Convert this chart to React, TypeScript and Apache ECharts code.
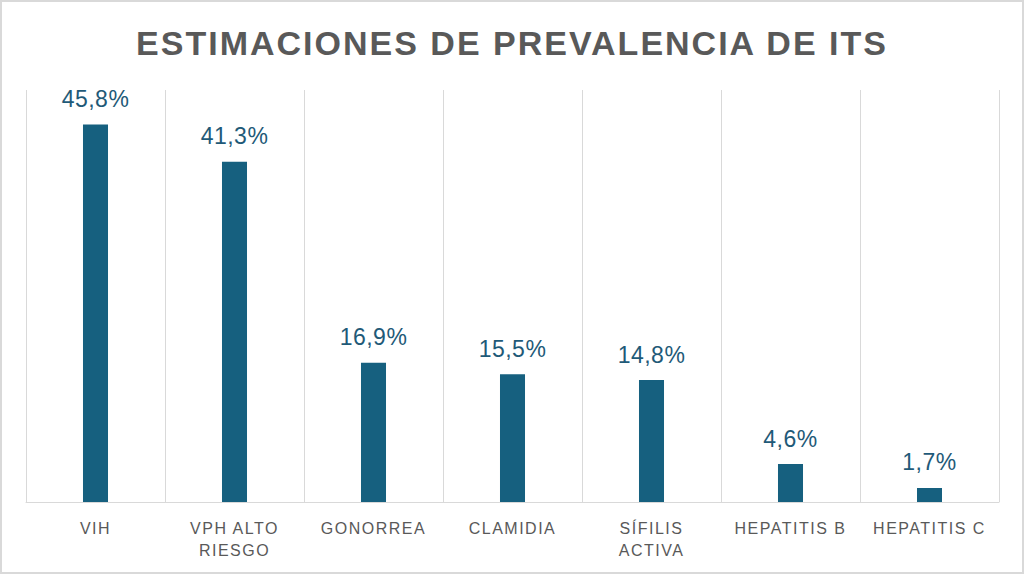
import React, { useEffect, useRef } from "react";
import * as echarts from "echarts";

const categories = ["VIH", "VPH ALTO\nRIESGO", "GONORREA", "CLAMIDIA", "SÍFILIS\nACTIVA", "HEPATITIS B", "HEPATITIS C"];
const values = [45.8, 41.3, 16.9, 15.5, 14.8, 4.6, 1.7];
const titleText = "ESTIMACIONES DE PREVALENCIA DE ITS";

export default function App() {
  const ref = useRef<HTMLDivElement>(null);
  useEffect(() => {
    if (!ref.current) return;
    const chart = echarts.init(ref.current, undefined, { renderer: "svg" });
    chart.setOption({
      animation: false,
      backgroundColor: "#ffffff",
      title: {
        text: titleText,
        left: "center",
        top: 21,
        textStyle: {
          fontFamily: "Liberation Sans",
          fontSize: 34,
          fontWeight: "bold",
          color: "#595959",
        },
      },
      graphic: [
        {
          type: "rect",
          shape: { x: 1, y: 1, width: 1022, height: 572 },
          style: { fill: "none", stroke: "#d9d9d9", lineWidth: 2 },
          silent: true,
        },
      ],
      grid: { left: 26, right: 25, top: 90, bottom: 72, containLabel: false },
      xAxis: {
        type: "category",
        data: categories,
        axisLine: { show: true, lineStyle: { color: "#d9d9d9", width: 1 } },
        axisTick: { show: false },
        splitLine: { show: true, lineStyle: { color: "#d9d9d9", width: 1 } },
        axisLabel: {
          color: "#595959",
          fontFamily: "Liberation Sans",
          fontSize: 16,
          margin: 15,
          lineHeight: 22,
          interval: 0,
        },
      },
      yAxis: {
        type: "value",
        min: 0,
        max: 50,
        show: false,
        splitLine: { show: false },
      },
      series: [
        {
          type: "bar",
          data: values,
          barWidth: "18%",
          itemStyle: { color: "#16607F" },
          label: {
            show: true,
            position: "top",
            distance: 14,
            color: "#1F5A78",
            fontFamily: "Liberation Sans",
            fontSize: 23,
            formatter: (p: any) => String(p.value.toFixed(1)).replace(".", ",") + "%",
          },
        },
      ],
    });
    const texts = ref.current.querySelectorAll("text");
    texts.forEach((t) => {
      const s = t.textContent || "";
      if (s === titleText) t.style.letterSpacing = "2px";
      else if (s.includes("%")) t.style.letterSpacing = "0.5px";
      else t.style.letterSpacing = "1.5px";
    });
    return () => chart.dispose();
  }, []);
  return <div ref={ref} style={{ position: "fixed", left: 0, top: 0, width: 1024, height: 574 }} />;
}
